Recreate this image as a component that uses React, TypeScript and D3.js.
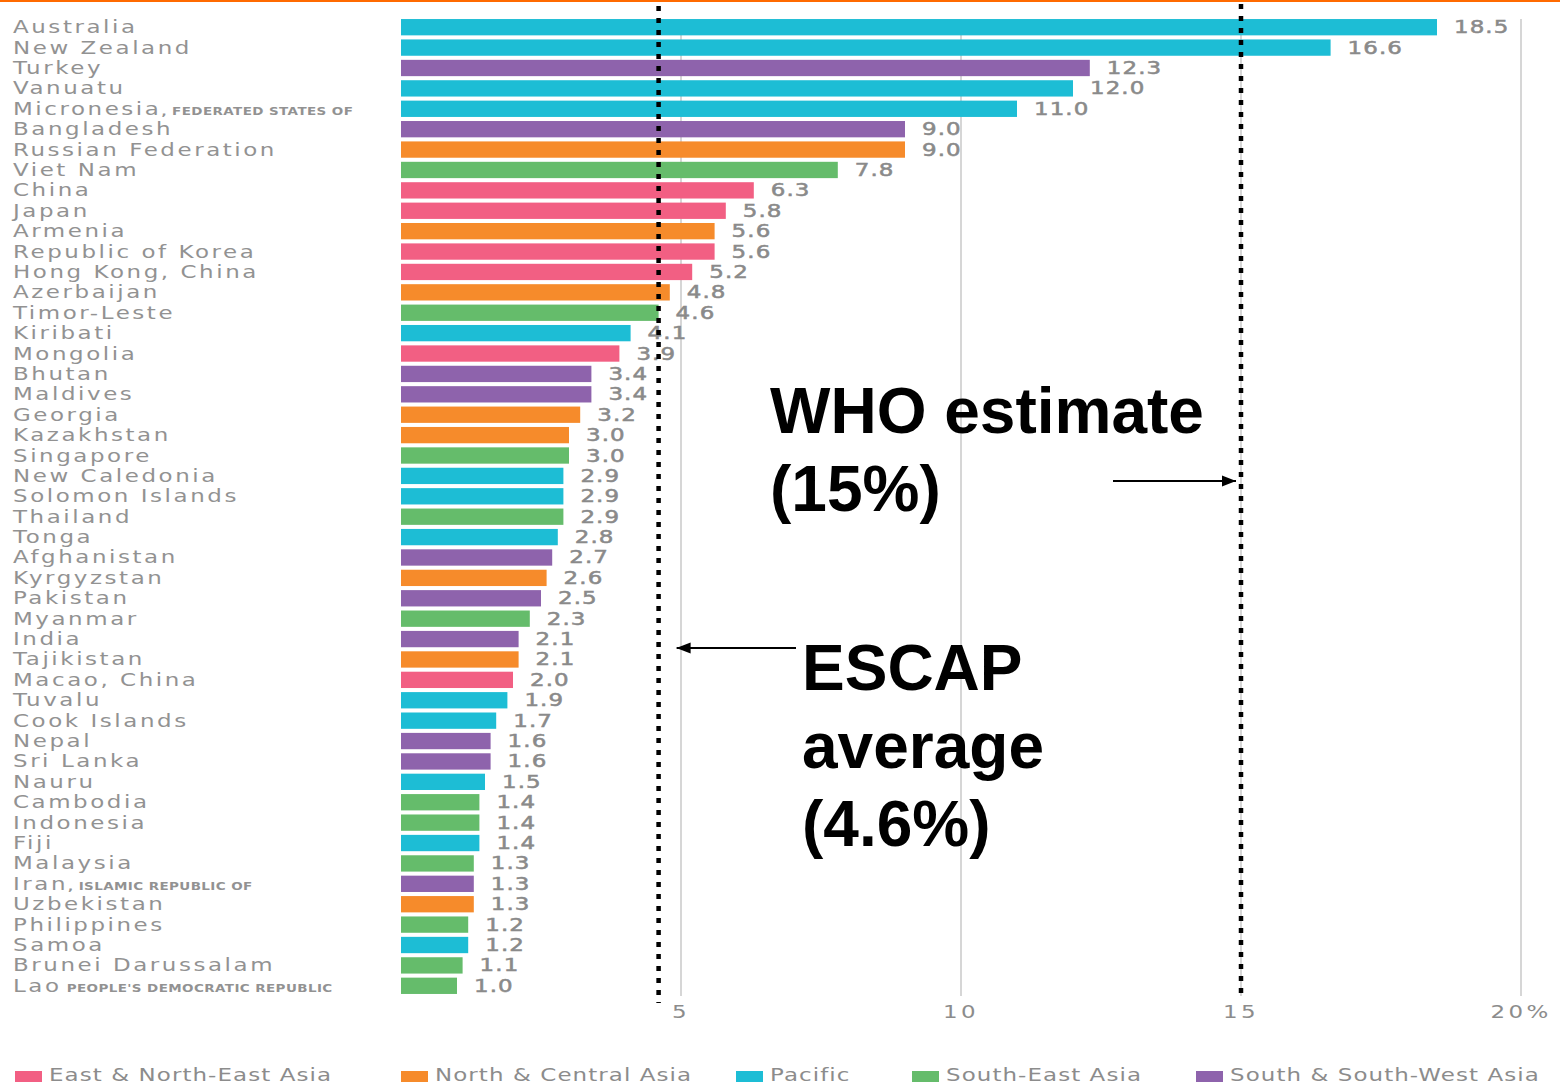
import React, { useEffect, useRef } from "react";
import * as d3 from "d3";

// country, suffix (small caps), value (%), region
const countries = [
  "Australia", "New Zealand", "Turkey", "Vanuatu", "Micronesia", "Bangladesh",
  "Russian Federation", "Viet Nam", "China", "Japan", "Armenia", "Republic of Korea",
  "Hong Kong, China", "Azerbaijan", "Timor-Leste", "Kiribati", "Mongolia", "Bhutan",
  "Maldives", "Georgia", "Kazakhstan", "Singapore", "New Caledonia", "Solomon Islands",
  "Thailand", "Tonga", "Afghanistan", "Kyrgyzstan", "Pakistan", "Myanmar", "India",
  "Tajikistan", "Macao, China", "Tuvalu", "Cook Islands", "Nepal", "Sri Lanka", "Nauru",
  "Cambodia", "Indonesia", "Fiji", "Malaysia", "Iran", "Uzbekistan", "Philippines",
  "Samoa", "Brunei Darussalam", "Lao",
];
const suffixes: Record<string, string> = {
  Micronesia: ", FEDERATED STATES OF",
  Iran: ", ISLAMIC REPUBLIC OF",
  Lao: " PEOPLE'S DEMOCRATIC REPUBLIC",
};
const values = [
  18.5, 16.6, 12.3, 12.0, 11.0, 9.0, 9.0, 7.8, 6.3, 5.8, 5.6, 5.6, 5.2, 4.8, 4.6, 4.1,
  3.9, 3.4, 3.4, 3.2, 3.0, 3.0, 2.9, 2.9, 2.9, 2.8, 2.7, 2.6, 2.5, 2.3, 2.1, 2.1, 2.0,
  1.9, 1.7, 1.6, 1.6, 1.5, 1.4, 1.4, 1.4, 1.3, 1.3, 1.3, 1.2, 1.2, 1.1, 1.0,
];
const regionOf = [
  "PAC", "PAC", "SSW", "PAC", "PAC", "SSW", "NCA", "SEA", "ENE", "ENE", "NCA", "ENE",
  "ENE", "NCA", "SEA", "PAC", "ENE", "SSW", "SSW", "NCA", "NCA", "SEA", "PAC", "PAC",
  "SEA", "PAC", "SSW", "NCA", "SSW", "SEA", "SSW", "NCA", "ENE", "PAC", "PAC", "SSW",
  "SSW", "PAC", "SEA", "SEA", "PAC", "SEA", "SSW", "NCA", "SEA", "PAC", "SEA", "SEA",
];
const regionKeys = ["ENE", "NCA", "PAC", "SEA", "SSW"];
const regionNames = [
  "East & North-East Asia", "North & Central Asia", "Pacific",
  "South-East Asia", "South & South-West Asia",
];
const regionColors = ["#f25f83", "#f68b2b", "#1dbdd5", "#65bc6b", "#8e63ac"];
const ticks = [5, 10, 15, 20];
const escapAvg = 4.6;
const whoEstimate = 15;

const W = 1560, H = 1086;
const SX = 1.35; // horizontal stretch of the label font

const App: React.FC = () => {
  const svgRef = useRef<SVGSVGElement>(null);

  useEffect(() => {
    document.body.style.margin = "0";
    if (!svgRef.current) return;
    const svg = d3.select(svgRef.current);
    svg.selectAll("*").remove();

    const x = d3.scaleLinear().domain([0, 20]).range([401, 1521]);
    const y = d3.scaleBand<string>().domain(countries).range([17, 996]).paddingInner(0.2).paddingOuter(0.1);
    const color = d3.scaleOrdinal<string, string>().domain(regionKeys).range(regionColors);
    const bw = y.bandwidth();
    const rows = countries.map((c, i) => ({ c, v: values[i], r: regionOf[i] }));

    // top orange rule
    svg.append("rect").attr("x", 0).attr("y", 0).attr("width", W).attr("height", 2).attr("fill", "#ff6a00");

    // grid lines
    svg.append("g").selectAll("line").data(ticks).join("line")
      .attr("x1", d => x(d)).attr("x2", d => x(d))
      .attr("y1", 19).attr("y2", 996)
      .attr("stroke", "#c8c8c8").attr("stroke-width", 1.5);

    // tick labels
    svg.append("g").selectAll("text").data(ticks).join("text")
      .attr("transform", d => `translate(${x(d)},1018) scale(${SX},1)`)
      .attr("text-anchor", "middle")
      .attr("font-family", "DejaVu Sans").attr("font-size", 17)
      .attr("letter-spacing", 2.5).attr("fill", "#8c8c8c")
      .text(d => (d === 20 ? "20%" : String(d)));

    // bars
    svg.append("g").selectAll("rect").data(rows).join("rect")
      .attr("x", x(0)).attr("y", d => y(d.c)!)
      .attr("width", d => x(d.v) - x(0)).attr("height", bw)
      .attr("fill", d => color(d.r));

    // value labels
    svg.append("g").selectAll("text").data(rows).join("text")
      .attr("transform", d => `translate(${x(d.v) + 17},${y(d.c)! + bw / 2 + 6}) scale(${SX},1)`)
      .attr("font-family", "DejaVu Sans").attr("font-size", 17)
      .attr("letter-spacing", 0.8).attr("fill", "#8a8a8a")
      .attr("stroke", "#8a8a8a").attr("stroke-width", 0.5)
      .text(d => d.v.toFixed(1));

    // country labels
    const lbl = svg.append("g").selectAll("text").data(rows).join("text")
      .attr("transform", d => `translate(13,${y(d.c)! + bw / 2 + 6}) scale(${SX},1)`)
      .attr("font-family", "DejaVu Sans").attr("font-size", 17)
      .attr("letter-spacing", 1.9).attr("fill", "#929292");
    lbl.append("tspan").text(d => d.c);
    lbl.filter(d => !!suffixes[d.c]).append("tspan")
      .attr("font-size", 10).attr("font-weight", "bold").attr("letter-spacing", 0.3)
      .text(d => suffixes[d.c]);

    // reference dotted lines
    const refs = [
      { v: escapAvg, y1: 6, y2: 1003 },
      { v: whoEstimate, y1: 4, y2: 1000 },
    ];
    svg.append("g").selectAll("line").data(refs).join("line")
      .attr("x1", d => x(d.v)).attr("x2", d => x(d.v))
      .attr("y1", d => d.y1).attr("y2", d => d.y2)
      .attr("stroke", "#000").attr("stroke-width", 4.5).attr("stroke-dasharray", "5 7");

    // arrows
    const defs = svg.append("defs");
    defs.append("marker").attr("id", "ah").attr("viewBox", "0 0 10 10")
      .attr("refX", 10).attr("refY", 5).attr("markerWidth", 7).attr("markerHeight", 7)
      .attr("markerUnits", "strokeWidth").attr("orient", "auto")
      .append("path").attr("d", "M0,1 L10,5 L0,9 Z").attr("fill", "#000");
    const arrows = [
      { x1: 1113, x2: x(whoEstimate) - 5, y: 481 },
      { x1: 796, x2: x(escapAvg) + 18, y: 648 },
    ];
    svg.append("g").selectAll("line").data(arrows).join("line")
      .attr("x1", d => d.x1).attr("x2", d => d.x2)
      .attr("y1", d => d.y).attr("y2", d => d.y)
      .attr("stroke", "#000").attr("stroke-width", 2).attr("marker-end", "url(#ah)");

    // annotations
    const notes = [
      { t: "WHO estimate", x: 770, y: 433 },
      { t: "(15%)", x: 770, y: 511 },
      { t: "ESCAP", x: 802, y: 690 },
      { t: "average", x: 802, y: 768 },
      { t: "(4.6%)", x: 802, y: 846 },
    ];
    svg.append("g").selectAll("text").data(notes).join("text")
      .attr("x", d => d.x).attr("y", d => d.y)
      .attr("font-family", "Liberation Sans, Arial, sans-serif")
      .attr("font-weight", "bold").attr("font-size", 64).attr("fill", "#000")
      .text(d => d.t);

    // legend
    const legX = [15, 401, 736, 912, 1196];
    const leg = svg.append("g").selectAll("g").data(regionKeys).join("g")
      .attr("transform", (_, i) => `translate(${legX[i]},0)`);
    leg.append("rect").attr("x", 0).attr("y", 1071).attr("width", 27).attr("height", 11)
      .attr("fill", d => color(d));
    leg.append("text")
      .attr("transform", `translate(34,1081) scale(${SX},1)`)
      .attr("font-family", "DejaVu Sans").attr("font-size", 17)
      .attr("letter-spacing", 0.8).attr("fill", "#8c8c8c")
      .text((_, i) => regionNames[i]);
  }, []);

  return <svg ref={svgRef} width={W} height={H} style={{ display: "block", background: "#fff" }} />;
};

export default App;
